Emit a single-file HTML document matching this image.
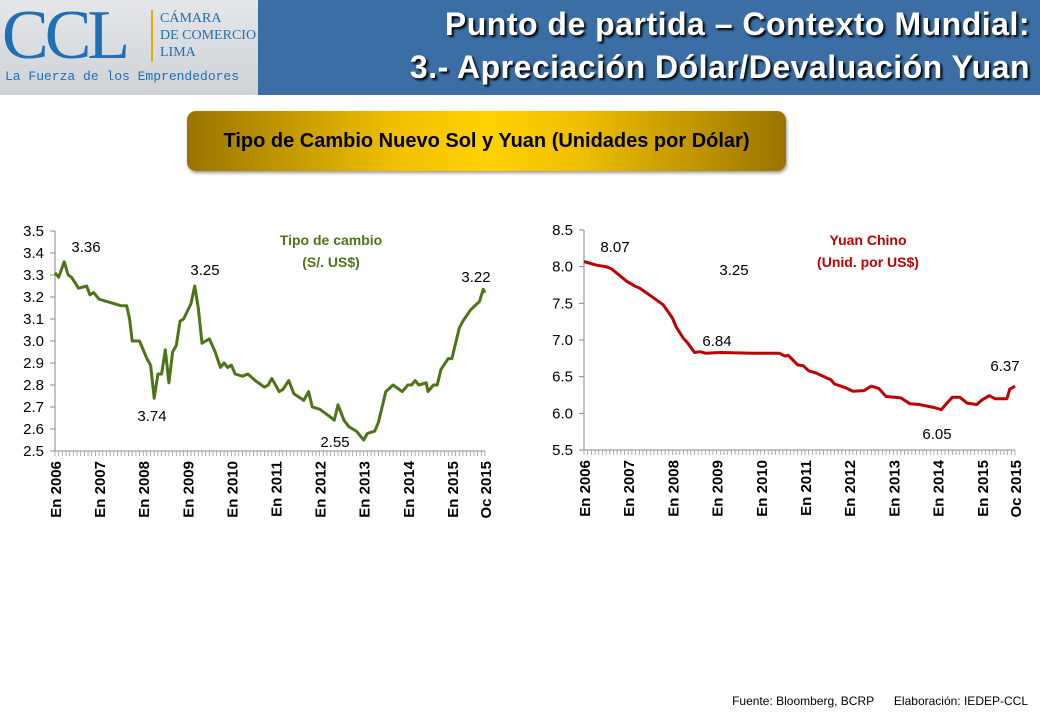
<!DOCTYPE html>
<html><head><meta charset="utf-8">
<style>
body{margin:0;width:1040px;height:720px;background:#fff;font-family:"Liberation Sans",sans-serif;overflow:hidden;position:relative}
#logo{position:absolute;left:0;top:0;width:258px;height:95px;background:linear-gradient(#e4e6e8,#cfd3d6);overflow:hidden}
#hdr{position:absolute;left:258px;top:0;width:782px;height:95px;background:#3b6ea5}
#hdr div{position:absolute;right:10px;color:#fff;font-weight:bold;font-size:32px;text-shadow:2px 2px 2px #000;white-space:nowrap;letter-spacing:0.5px}
#banner{position:absolute;left:187px;top:111px;width:599px;height:60px;border-radius:9px;background:linear-gradient(90deg,#9a7400,#f0c000 35%,#ffd200 50%,#f0c000 65%,#9a7400);box-shadow:1px 2px 3px #999;text-align:center;line-height:60px;font-weight:bold;font-size:20px;color:#000;white-space:nowrap}
#foot{position:absolute;right:12px;top:694px;font-size:12px;color:#000;white-space:pre}
</style></head><body>
<div id="logo">
 <div style="position:absolute;left:2px;top:-4px;font-family:'Liberation Serif',serif;font-size:70px;color:#1f6fb6;letter-spacing:-4px">CCL</div>
 <div style="position:absolute;left:151px;top:10px;width:2px;height:52px;background:#e0b000"></div>
 <div style="position:absolute;left:160px;top:10px;font-family:'Liberation Serif',serif;font-size:14px;line-height:17px;color:#1f6fb6;white-space:nowrap">CÁMARA<br>DE COMERCIO<br>LIMA</div>
 <div style="position:absolute;left:5px;top:69px;font-family:'Liberation Mono',monospace;font-size:13px;color:#1f6fb6;white-space:nowrap">La Fuerza de los Emprendedores</div>
</div>
<div id="hdr">
 <div style="top:6px">Punto de partida – Contexto Mundial:</div>
 <div style="top:49px">3.- Apreciación Dólar/Devaluación Yuan</div>
</div>
<div id="banner">Tipo de Cambio Nuevo Sol y Yuan (Unidades por Dólar)</div>
<svg id="svg" width="1040" height="720" style="position:absolute;left:0;top:0"></svg>
<div id="foot">Fuente: Bloomberg, BCRP      Elaboración: IEDEP-CCL</div>
<script>
const xLabels=["En 2006","En 2007","En 2008","En 2009","En 2010","En 2011","En 2012","En 2013","En 2014","En 2015","Oc 2015"];
const xLabelMonths=[0,12,24,36,48,60,72,84,96,108,117];
const solMonths=[0,1,2.5,3.6,4.5,6.4,8.6,9.5,10.5,12,16,18,19.5,20.3,21,23,25,26,27,28,29,30,31,32,33,34,35,37,38,39,40,41,42,43.6,45,46,47,48,49,51,52.5,54.5,57,58,59,60,61,62,63.6,65,67.7,69,70,72,74.5,76,77,78.6,80,82,84,85,87,88,90,92,94.5,96,97,98,99,101,101.5,103,104,105,107,108,110,111,113,115.5,116.5,117];
const solValues=[3.31,3.29,3.36,3.30,3.29,3.24,3.25,3.21,3.22,3.19,3.17,3.16,3.16,3.10,3.00,3.00,2.92,2.89,2.74,2.85,2.85,2.96,2.81,2.95,2.98,3.09,3.10,3.17,3.25,3.15,2.99,3.00,3.01,2.95,2.88,2.90,2.88,2.89,2.85,2.84,2.85,2.82,2.79,2.80,2.83,2.80,2.77,2.78,2.82,2.76,2.73,2.77,2.70,2.69,2.66,2.64,2.71,2.64,2.61,2.59,2.55,2.58,2.59,2.63,2.77,2.80,2.77,2.80,2.80,2.82,2.80,2.81,2.77,2.80,2.80,2.87,2.92,2.92,3.06,3.09,3.14,3.18,3.235,3.22];
const solTicks=[2.5,2.6,2.7,2.8,2.9,3.0,3.1,3.2,3.3,3.4,3.5];
const solAnn=[["3.36",86,247],["3.25",205,270],["3.74",152,416],["2.55",335,442],["3.22",476,277]];
const yuanMonths=[0,3.4,6,7.5,11.6,14,15,19,21.5,24,25,27,28,30,31.5,33,37,46,53,54.5,55.5,58,59.5,61,63,66,67,68,71,73,76,78,80,82,86,88.5,91,95,97,98.5,100,102,104,106.6,108,110,111.6,114.8,115.6,117];
const yuanValues=[8.07,8.02,8.00,7.97,7.80,7.73,7.71,7.57,7.48,7.30,7.18,7.02,6.97,6.83,6.84,6.82,6.83,6.82,6.82,6.78,6.79,6.66,6.65,6.58,6.55,6.48,6.46,6.40,6.35,6.30,6.31,6.37,6.34,6.23,6.21,6.13,6.12,6.08,6.05,6.14,6.22,6.22,6.14,6.12,6.18,6.24,6.20,6.20,6.33,6.37];
const yuanTicks=[5.5,6.0,6.5,7.0,7.5,8.0,8.5];
const yuanAnn=[["8.07",615,247],["3.25",734,270],["6.84",717,341],["6.05",937,434],["6.37",1005,366]];

const svg=document.getElementById('svg');
const NS='http://www.w3.org/2000/svg';
function mk(tag,attrs,parent){const e=document.createElementNS(NS,tag);for(const k in attrs)e.setAttribute(k,attrs[k]);(parent||svg).appendChild(e);return e;}

function chart(o){
  const g=mk('g',{});
  
  
  const xs=m=>o.x0+m*(o.x1-o.x0)/117;
  const ys=v=>o.yb+(v-o.vmin)*(o.yt-o.yb)/(o.vmax-o.vmin);
  const ax=mk('line',{x1:o.x0,y1:o.yt,x2:o.x0,y2:o.yb,stroke:'#888','stroke-width':1},g);
  
  
  const bx=mk('line',{x1:o.x0,y1:o.yb,x2:o.x1,y2:o.yb,stroke:'#888','stroke-width':1},g);
  
  
  o.ticks.forEach(t=>{
    const y=ys(t);
    mk('line',{x1:o.x0-5,y1:y,x2:o.x0,y2:y,stroke:'#888'},g);
    const tx=mk('text',{x:o.x0-11,y:y+5,'text-anchor':'end','font-size':15,fill:'#000'},g);
    tx.textContent=t.toFixed(1);
    
    
  });
  for(let m=0;m<=117;m++){mk('line',{x1:xs(m),y1:o.yb,x2:xs(m),y2:o.yb+5,stroke:'#999','stroke-width':0.8},g);}
  xLabels.forEach((l,i)=>{
    const x=xs(xLabelMonths[i]);
    const tx=mk('text',{x:0,y:0,'text-anchor':'end','font-size':15,'font-weight':'bold',fill:'#000',transform:`translate(${x+6},${o.yb+10}) rotate(-90)`},g);
    tx.textContent=l;
    
    
  });
  let d='';
  o.months.forEach((m,i)=>{d+=(i?'L':'M')+xs(m).toFixed(1)+','+ys(o.values[i]).toFixed(1);});
  const p=mk('path',{d:d,fill:'none',stroke:o.color,'stroke-width':3,'stroke-linejoin':'round'},g);
  
  
  o.ann.forEach(a=>{
    const t=mk('text',{x:a[1],y:a[2]+5,'text-anchor':'middle','font-size':15,fill:'#000'},g);
    t.textContent=a[0];
    
    
  });
  o.legend.forEach((l,i)=>{
    const t=mk('text',{x:o.lx,y:245+i*22,'text-anchor':'middle','font-size':14,'font-weight':'bold',fill:o.color},g);
    t.textContent=l;
    
    
  });
}
chart({name:'sol-chart',lineName:'sol-line',x0:55,x1:485,yt:231,yb:451,vmin:2.5,vmax:3.5,ticks:solTicks,months:solMonths,values:solValues,color:'#4e7418',ann:solAnn,legend:['Tipo de cambio','(S/. US$)'],lx:331});
chart({name:'yuan-chart',lineName:'yuan-line',x0:584,x1:1015,yt:230,yb:450,vmin:5.5,vmax:8.5,ticks:yuanTicks,months:yuanMonths,values:yuanValues,color:'#c00000',ann:yuanAnn,legend:['Yuan Chino','(Unid. por US$)'],lx:868});
</script>
</body></html>
